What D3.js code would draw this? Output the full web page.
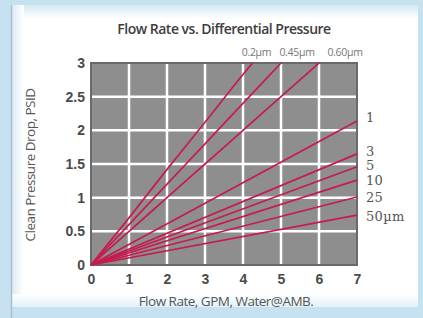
<!DOCTYPE html>
<html>
<head>
<meta charset="utf-8">
<script src="https://cdn.jsdelivr.net/npm/d3@7"></script>
<style>
  html, body { margin: 0; padding: 0; background: #c6e2f0; }
  #chart { width: 423px; height: 318px; }
</style>
</head>
<body>
<div id="chart"></div>
<script>
// chart values
var xTicks = [0, 1, 2, 3, 4, 5, 6, 7];
var yTicks = [0, 0.5, 1, 1.5, 2, 2.5, 3];
var yTickLabels = ["0", "0.5", "1", "1.5", "2", "2.5", "3"];

var flow02 = [0, 1, 2, 3, 4, 4.25];
var psid02 = [0, 0.7, 1.42, 2.12, 2.83, 3];
var flow045 = [0, 1, 2, 3, 4, 5];
var psid045 = [0, 0.6, 1.2, 1.8, 2.4, 3];
var flow060 = [0, 1, 2, 3, 4, 5, 6];
var psid060 = [0, 0.5, 1, 1.5, 2, 2.5, 3];
var flowOther = [0, 7];
var psid1 = [0, 2.14];
var psid3 = [0, 1.65];
var psid5 = [0, 1.46];
var psid10 = [0, 1.26];
var psid25 = [0, 1.01];
var psid50 = [0, 0.74];

var topLabels = ["0.2µm", "0.45µm", "0.60µm"];
var rightLabels = ["1", "3", "5", "10", "25", "50µm"];

var W = 423, H = 318;
var svg = d3.select("#chart").append("svg")
  .attr("width", W)
  .attr("height", H);

// page background + card
var defs = svg.append("defs");
var gTop = defs.append("linearGradient").attr("id", "gTop")
  .attr("x1", "0%").attr("y1", "0%").attr("x2", "0%").attr("y2", "100%");
gTop.append("stop").attr("offset", "0%").attr("stop-color", "#d4e8f2");
gTop.append("stop").attr("offset", "100%").attr("stop-color", "#ffffff");
var gLeft = defs.append("linearGradient").attr("id", "gLeft")
  .attr("x1", "0%").attr("y1", "0%").attr("x2", "100%").attr("y2", "0%");
gLeft.append("stop").attr("offset", "0%").attr("stop-color", "#dcecf5");
gLeft.append("stop").attr("offset", "100%").attr("stop-color", "#ffffff");
var gBot = defs.append("linearGradient").attr("id", "gBot")
  .attr("x1", "0%").attr("y1", "0%").attr("x2", "0%").attr("y2", "100%");
gBot.append("stop").attr("offset", "0%").attr("stop-color", "#ffffff");
gBot.append("stop").attr("offset", "100%").attr("stop-color", "#e4f1f8");

svg.append("rect").attr("width", W).attr("height", H).attr("fill", "#c6e2f0");
svg.append("rect").attr("x", 12).attr("y", 5).attr("width", 406).attr("height", 302).attr("fill", "#fff");
svg.append("rect").attr("x", 12).attr("y", 5).attr("width", 406).attr("height", 14).attr("fill", "url(#gTop)");
svg.append("rect").attr("x", 12).attr("y", 5).attr("width", 12).attr("height", 302).attr("fill", "url(#gLeft)");
svg.append("rect").attr("x", 12).attr("y", 294).attr("width", 406).attr("height", 13).attr("fill", "url(#gBot)");
svg.append("line").attr("x1", 11.5).attr("x2", 11.5).attr("y1", 5).attr("y2", H)
  .attr("stroke", "#a9bfd0").attr("stroke-width", 1.5);

// scales
var x = d3.scaleLinear().domain([0, 7]).range([91, 357]);
var y = d3.scaleLinear().domain([0, 3]).range([265, 63]);

// plot background
svg.append("rect")
  .attr("x", x(0)).attr("y", y(3))
  .attr("width", x(7) - x(0)).attr("height", y(0) - y(3))
  .attr("fill", "#8e8e8e");

// grid
svg.append("g").selectAll("line")
  .data(xTicks.slice(1, -1)).enter().append("line")
  .attr("x1", function(d) { return x(d); }).attr("x2", function(d) { return x(d); })
  .attr("y1", y(0)).attr("y2", y(3))
  .attr("stroke", "#fff").attr("stroke-width", 2.5);
svg.append("g").selectAll("line")
  .data(yTicks.slice(1, -1)).enter().append("line")
  .attr("x1", x(0)).attr("x2", x(7))
  .attr("y1", function(d) { return y(d); }).attr("y2", function(d) { return y(d); })
  .attr("stroke", "#fff").attr("stroke-width", 2.5);

// border
svg.append("rect")
  .attr("x", x(0)).attr("y", y(3))
  .attr("width", x(7) - x(0)).attr("height", y(0) - y(3))
  .attr("fill", "none").attr("stroke", "#6a6a6a").attr("stroke-width", 2);

// lines
var allSeries = [
  [flow02, psid02], [flow045, psid045], [flow060, psid060],
  [flowOther, psid1], [flowOther, psid3], [flowOther, psid5],
  [flowOther, psid10], [flowOther, psid25], [flowOther, psid50]
];
var line = d3.line()
  .x(function(d) { return x(d[0]); })
  .y(function(d) { return y(d[1]); })
  .curve(d3.curveMonotoneX);

svg.append("g").selectAll("path")
  .data(allSeries).enter().append("path")
  .attr("d", function(s) { return line(d3.zip(s[0], s[1])); })
  .attr("fill", "none")
  .attr("stroke", "#c71a4e")
  .attr("stroke-width", 1.7);

// axes (tick labels only)
var xAxis = d3.axisBottom(x).tickValues(xTicks).tickSize(0).tickPadding(0)
  .tickFormat(d3.format("d"));
var gx = svg.append("g").attr("transform", "translate(0," + (y(0) + 9) + ")").call(xAxis);
gx.select(".domain").remove();
gx.selectAll("text")
  .attr("font-family", "Liberation Sans, Arial, sans-serif")
  .attr("font-weight", "bold").attr("font-size", 14).attr("fill", "#4a4a4a");

var yAxis = d3.axisLeft(y).tickValues(yTicks).tickSize(0).tickPadding(6)
  .tickFormat(function(d, i) { return yTickLabels[i]; });
var gy = svg.append("g").attr("transform", "translate(" + x(0) + ",0)").call(yAxis);
gy.select(".domain").remove();
gy.selectAll("text")
  .attr("font-family", "Liberation Sans, Arial, sans-serif")
  .attr("font-weight", "bold").attr("font-size", 14).attr("fill", "#4a4a4a");

// title
svg.append("text")
  .attr("x", 224).attr("y", 34)
  .attr("text-anchor", "middle")
  .attr("font-family", "Open Sans, sans-serif")
  .attr("font-weight", 600)
  .attr("font-size", 14).attr("letter-spacing", -0.5)
  .attr("fill", "#3d3d3d")
  .text("Flow Rate vs. Differential Pressure");

// axis titles
svg.append("text")
  .attr("transform", "translate(35,165) rotate(-90)")
  .attr("text-anchor", "middle")
  .attr("font-family", "Open Sans, sans-serif")
  .attr("font-size", 13.5).attr("letter-spacing", -0.5)
  .attr("fill", "#555")
  .text("Clean Pressure Drop, PSID");

svg.append("text")
  .attr("x", 226).attr("y", 306)
  .attr("text-anchor", "middle")
  .attr("font-family", "Open Sans, sans-serif")
  .attr("font-size", 13.5).attr("letter-spacing", -0.5)
  .attr("fill", "#555")
  .text("Flow Rate, GPM, Water@AMB.");

// top labels, placed from the line ends
var topEnds = [flow02[flow02.length - 1], flow045[flow045.length - 1], flow060[flow060.length - 1]];
var topShift = [4, 16, 26];
svg.append("g").selectAll("text")
  .data(topLabels).enter().append("text")
  .attr("x", function(d, i) { return x(topEnds[i]) + topShift[i]; })
  .attr("y", 56)
  .attr("text-anchor", "middle")
  .attr("font-family", "Open Sans, sans-serif")
  .attr("font-size", 10.5).attr("letter-spacing", -0.3)
  .attr("fill", "#777")
  .text(function(d) { return d; });

// right labels, placed from the line ends
var rightEnds = [psid1, psid3, psid5, psid10, psid25, psid50].map(function(a) { return a[a.length - 1]; });
var rightShift = [-4, -3, -2, 0, 0, 1];
svg.append("g").selectAll("text")
  .data(rightLabels).enter().append("text")
  .attr("x", 366)
  .attr("y", function(d, i) { return y(rightEnds[i]) + rightShift[i] + 5; })
  .attr("font-family", "DejaVu Serif, serif")
  .attr("font-size", 13).attr("letter-spacing", 0.3)
  .attr("fill", "#555")
  .text(function(d) { return d; });
</script>
</body>
</html>
